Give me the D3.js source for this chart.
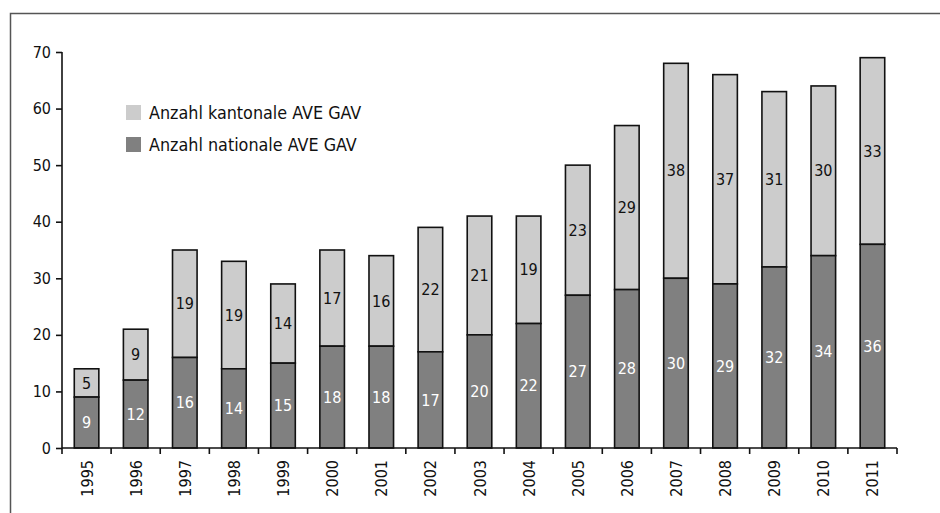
<!DOCTYPE html>
<html lang="de">
<head>
<meta charset="UTF-8">
<title>AVE GAV</title>
<script src="https://d3js.org/d3.v7.min.js"></script>
<style>
  body { margin: 0; background: #fff; }
  text { font-family: "DejaVu Sans Condensed", "DejaVu Sans", sans-serif; }
</style>
</head>
<body>
<div class="chart"></div>
<script>
const years = ["1995","1996","1997","1998","1999","2000","2001","2002","2003","2004","2005","2006","2007","2008","2009","2010","2011"];
const national = [9, 12, 16, 14, 15, 18, 18, 17, 20, 22, 27, 28, 30, 29, 32, 34, 36];
const kantonal = [5, 9, 19, 19, 14, 17, 16, 22, 21, 19, 23, 29, 38, 37, 31, 30, 33];
const yTicks = [0, 10, 20, 30, 40, 50, 60, 70];
const seriesNames = ["Anzahl kantonale AVE GAV", "Anzahl nationale AVE GAV"];

const W = 940, H = 513;
const x0 = 62, x1 = 897, yTop = 52, yBottom = 448;
const FONT = "'DejaVu Sans Condensed', 'DejaVu Sans', sans-serif";

const svg = d3.select(".chart").append("svg")
  .attr("width", W).attr("height", H);

// outer frame
svg.append("path")
  .attr("d", `M10.5,${H + 5} L10.5,13.5 L${W + 5},13.5`)
  .attr("fill", "none").attr("stroke", "#555").attr("stroke-width", 1.5);

const xScale = d3.scaleBand().domain(years).range([x0, x1]).paddingInner(0.5).paddingOuter(0.25);
const yScale = d3.scaleLinear().domain([0, 70]).range([yBottom, yTop]);

const data = years.map((y, i) => ({ year: y, nat: national[i], kan: kantonal[i] }));

// bars
const g = svg.append("g");
data.forEach(d => {
  const bx = xScale(d.year), bw = xScale.bandwidth();
  g.append("rect")
    .attr("x", bx).attr("width", bw)
    .attr("y", yScale(d.nat + d.kan)).attr("height", yScale(d.nat) - yScale(d.nat + d.kan))
    .attr("fill", "#cccccc").attr("stroke", "#111").attr("stroke-width", 1.6);
  g.append("rect")
    .attr("x", bx).attr("width", bw)
    .attr("y", yScale(d.nat)).attr("height", yScale(0) - yScale(d.nat))
    .attr("fill", "#808080").attr("stroke", "#111").attr("stroke-width", 1.6);
  g.append("text")
    .attr("x", bx + bw / 2).attr("y", yScale(d.nat / 2))
    .attr("dy", "0.35em").attr("text-anchor", "middle")
    .attr("font-size", 16).attr("fill", "#fff").text(d.nat);
  g.append("text")
    .attr("x", bx + bw / 2).attr("y", yScale(d.nat + d.kan / 2))
    .attr("dy", "0.35em").attr("text-anchor", "middle")
    .attr("font-size", 16).attr("fill", "#111").text(d.kan);
});

// y axis
const yAxis = svg.append("g")
  .attr("transform", `translate(${x0},0)`)
  .call(d3.axisLeft(yScale).tickValues(yTicks).tickSize(6).tickPadding(5));
yAxis.select(".domain").attr("stroke", "#111").attr("stroke-width", 1.6).attr("d", `M0,${yTop}V${yBottom}`);
yAxis.selectAll(".tick line").attr("stroke", "#111").attr("stroke-width", 1.6);
yAxis.selectAll(".tick text").attr("font-size", 16).attr("fill", "#111")
  .style("font-family", FONT);

// x axis with ticks at band boundaries
const xAxisG = svg.append("g");
xAxisG.append("line")
  .attr("x1", x0).attr("x2", x1).attr("y1", yBottom).attr("y2", yBottom)
  .attr("stroke", "#111").attr("stroke-width", 1.6);
d3.range(years.length + 1).forEach(i => {
  const tx = x0 + i * (x1 - x0) / years.length;
  xAxisG.append("line")
    .attr("x1", tx).attr("x2", tx).attr("y1", yBottom).attr("y2", yBottom + 6)
    .attr("stroke", "#111").attr("stroke-width", 1.6);
});
years.forEach(y => {
  const cx = xScale(y) + xScale.bandwidth() / 2;
  xAxisG.append("text")
    .attr("transform", `translate(${cx + 6},${yBottom + 12}) rotate(-90)`)
    .attr("text-anchor", "end")
    .attr("font-size", 16).attr("fill", "#111").text(y);
});

// legend
const legend = svg.append("g");
const legColors = ["#cccccc", "#808080"];
seriesNames.forEach((n, i) => {
  legend.append("rect")
    .attr("x", 126).attr("y", 105 + i * 32).attr("width", 15).attr("height", 15)
    .attr("fill", legColors[i]);
  legend.append("text")
    .attr("x", 149).attr("y", 119 + i * 32)
    .attr("font-size", 17.8).attr("fill", "#111").text(n);
});
</script>
</body>
</html>
